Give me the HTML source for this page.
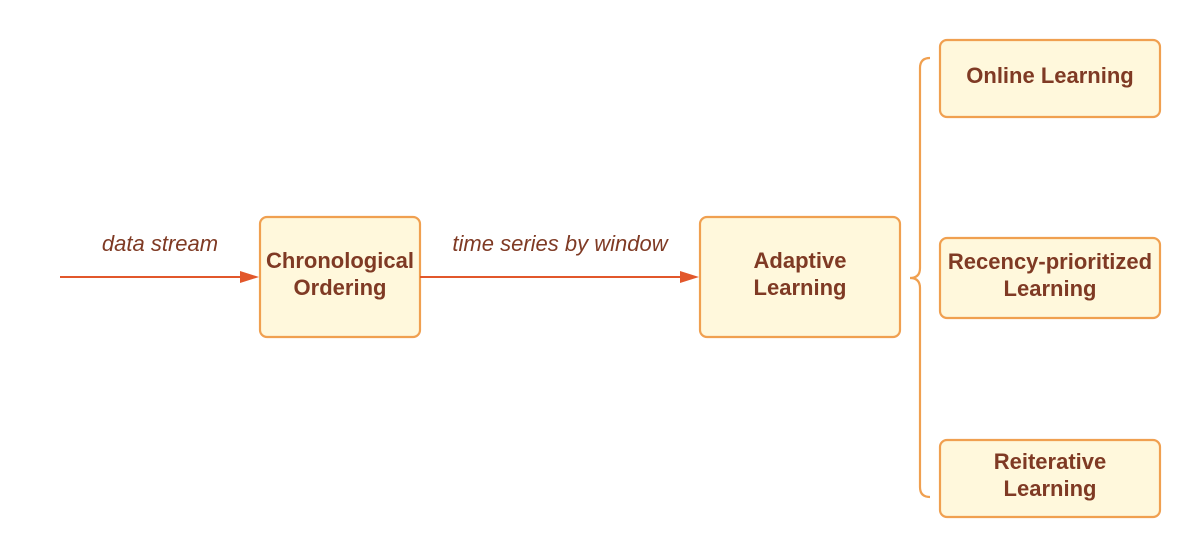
<!DOCTYPE html>
<html><head><meta charset="utf-8"><style>
html,body{margin:0;padding:0;background:#fff;}
svg{display:block;}
text{font-family:"Liberation Sans",sans-serif;fill:#7f3a24;}
.b{font-weight:bold;font-size:22px;}
.i{font-style:italic;font-size:22px;}
</style></head><body>
<svg width="1200" height="557" viewBox="0 0 1200 557" xmlns="http://www.w3.org/2000/svg">
<g fill="#fff8dc" stroke="#f0a050" stroke-width="2.2">
<rect x="260" y="217" width="160" height="120" rx="7"/>
<rect x="700" y="217" width="200" height="120" rx="7"/>
<rect x="940" y="40" width="220" height="77" rx="7"/>
<rect x="940" y="238" width="220" height="80" rx="7"/>
<rect x="940" y="440" width="220" height="77" rx="7"/>
</g>
<path d="M930 58 Q920 58 920 68 L920 268 Q920 278 910 278 Q920 278 920 288 L920 487 Q920 497 930 497" fill="none" stroke="#f0a050" stroke-width="2.2"/>
<g stroke="#e2572b" stroke-width="2" fill="#e2572b">
<line x1="60" y1="277" x2="244" y2="277"/>
<path d="M240 271 L259 277 L240 283Z" stroke="none"/>
<line x1="420" y1="277" x2="684" y2="277"/>
<path d="M680 271 L699 277 L680 283Z" stroke="none"/>
</g>
<text class="i" x="160" y="251" text-anchor="middle">data stream</text>
<text class="i" x="560" y="251" text-anchor="middle">time series by window</text>
<text class="b" x="340" y="268" text-anchor="middle">Chronological</text>
<text class="b" x="340" y="295" text-anchor="middle">Ordering</text>
<text class="b" x="800" y="268" text-anchor="middle">Adaptive</text>
<text class="b" x="800" y="295" text-anchor="middle">Learning</text>
<text class="b" x="1050" y="83" text-anchor="middle">Online Learning</text>
<text class="b" x="1050" y="269" text-anchor="middle">Recency-prioritized</text>
<text class="b" x="1050" y="296" text-anchor="middle">Learning</text>
<text class="b" x="1050" y="469" text-anchor="middle">Reiterative</text>
<text class="b" x="1050" y="496" text-anchor="middle">Learning</text>
</svg>
</body></html>
